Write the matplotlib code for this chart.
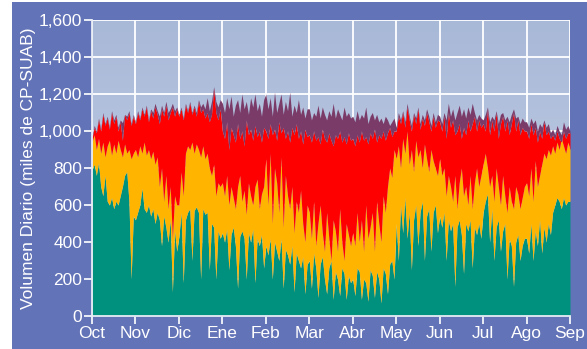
import numpy as np
import matplotlib.pyplot as plt
from matplotlib.patches import Rectangle
from matplotlib.colors import LinearSegmentedColormap

plt.rcParams['font.family'] = ['Liberation Sans', 'DejaVu Sans']

meses = ['Oct', 'Nov', 'Dic', 'Ene', 'Feb', 'Mar', 'Abr', 'May', 'Jun', 'Jul', 'Ago', 'Sep']

# límites superiores de cada capa (miles), 20 lecturas por mes (Oct..Ago) + 1 final
tope_verde = [
    790, 820, 760, 830, 700, 650, 760, 620, 600, 640, 580, 620, 600, 650, 700, 760, 780, 620, 200, 540,
    520, 560, 600, 690, 580, 560, 600, 540, 580, 500, 560, 520, 380, 540, 480, 400, 520, 130, 460, 350,
    430, 560, 180, 520, 560, 580, 300, 570, 590, 560, 200, 580, 550, 560, 250, 500, 480, 200, 460, 420,
    450, 400, 470, 250, 440, 480, 380, 150, 430, 460, 420, 200, 450, 400, 470, 180, 420, 380, 440, 260,
    380, 330, 420, 200, 400, 350, 300, 420, 150, 360, 330, 280, 380, 130, 340, 300, 260, 320, 120, 280,
    300, 150, 340, 260, 100, 280, 320, 200, 120, 260, 300, 90, 240, 200, 110, 260, 230, 90, 220, 180,
    200, 110, 260, 240, 90, 200, 180, 80, 250, 220, 100, 240, 200, 70, 260, 230, 120, 280, 300, 200,
    500, 300, 600, 450, 640, 420, 560, 250, 520, 600, 380, 560, 620, 300, 540, 580, 350, 560, 600, 450,
    540, 480, 560, 300, 520, 460, 500, 160, 480, 520, 440, 230, 500, 460, 520, 260, 480, 440, 500, 420,
    560, 620, 660, 400, 580, 300, 480, 520, 350, 460, 500, 200, 420, 380, 160, 400, 440, 300, 380, 420,
    420, 340, 500, 300, 460, 380, 520, 340, 480, 400, 500, 440, 560, 600, 640, 620, 580, 640, 600, 620,
    620,
]
tope_naranja = [
    940, 980, 900, 960, 880, 940, 860, 920, 950, 870, 930, 880, 950, 900, 860, 930, 880, 900, 850, 880,
    900, 860, 920, 880, 940, 870, 900, 850, 890, 820, 860, 700, 800, 620, 760, 580, 700, 420, 650, 600,
    600, 780, 650, 880, 920, 900, 940, 880, 930, 900, 860, 920, 850, 880, 800, 760, 820, 650, 720, 700,
    720, 650, 760, 600, 700, 640, 580, 700, 760, 620, 680, 550, 720, 650, 600, 700, 740, 580, 660, 700,
    850, 600, 880, 500, 800, 720, 560, 860, 480, 760, 650, 580, 700, 450, 620, 560, 680, 500, 400, 600,
    560, 420, 620, 380, 500, 600, 450, 350, 560, 420, 300, 520, 460, 350, 580, 400, 300, 500, 440, 380,
    450, 380, 560, 400, 520, 350, 600, 420, 480, 560, 350, 620, 500, 400, 650, 560, 700, 800, 750, 900,
    850, 920, 800, 960, 880, 1000, 820, 900, 780, 950, 860, 900, 800, 930, 850, 780, 900, 840, 800, 760,
    850, 760, 800, 650, 760, 700, 620, 760, 580, 720, 800, 650, 700, 600, 760, 580, 720, 800, 700, 760,
    820, 880, 800, 700, 760, 620, 800, 700, 600, 760, 650, 560, 700, 620, 580, 700, 660, 580, 640, 700,
    720, 650, 800, 620, 840, 700, 760, 820, 880, 850, 900, 870, 920, 880, 940, 900, 960, 920, 880, 940,
    900,
]
tope_rojo = [
    960, 1020, 990, 1060, 1000, 1090, 1030, 1070, 1010, 1100, 1040, 1080, 1000, 1050, 950, 1090, 1060, 1100, 1030, 1080,
    1040, 1100, 1060, 1120, 1080, 1130, 1050, 1110, 1070, 1130, 1090, 1040, 1120, 1080, 1140, 1060, 1100, 1130, 1080, 1120,
    1080, 1120, 1060, 1140, 1100, 1150, 1090, 1130, 1080, 1160, 1100, 1120, 1070, 1100, 1050, 1090, 1230, 1100, 1060, 1120,
    1000, 960, 1050, 900, 1020, 980, 940, 1040, 960, 1000, 920, 1060, 980, 1010, 950, 1030, 970, 1000, 940, 1020,
    1000, 960, 1040, 980, 1010, 950, 1050, 990, 1020, 960, 1000, 940, 1020, 980, 1040, 960, 1000, 930, 1010, 970,
    980, 940, 1000, 950, 970, 930, 1010, 960, 940, 990, 950, 920, 980, 960, 1000, 940, 970, 930, 990, 950,
    960, 920, 980, 940, 1000, 950, 970, 930, 990, 960, 1010, 940, 980, 960, 1000, 950, 990, 1020, 970, 1000,
    1000, 1080, 1040, 1100, 1020, 1130, 1060, 1000, 1090, 1040, 1120, 1010, 1070, 1030, 1100, 1050, 1000, 1080, 1020, 1060,
    1050, 1000, 1080, 960, 1100, 1020, 1060, 980, 1000, 1040, 960, 1020, 980, 1060, 1000, 1040, 1080, 1000, 1060, 1020,
    1040, 1000, 1120, 980, 1060, 1000, 1100, 960, 1040, 1080, 1000, 1060, 980, 1040, 1100, 1000, 1060, 980, 1020, 1000,
    1000, 960, 1040, 980, 1020, 940, 1000, 960, 1050, 980, 1000, 960, 980, 950, 1000, 960, 940, 1000, 960, 990,
    990,
]
total = [
    970, 1030, 1000, 1070, 1010, 1100, 1040, 1080, 1020, 1110, 1060, 1090, 1020, 1060, 1045, 1090, 1080, 1110, 1040, 1090,
    1050, 1110, 1070, 1130, 1090, 1140, 1060, 1120, 1100, 1150, 1110, 1080, 1140, 1100, 1160, 1100, 1120, 1150, 1110, 1130,
    1090, 1130, 1070, 1150, 1110, 1160, 1100, 1140, 1100, 1170, 1130, 1150, 1120, 1180, 1110, 1160, 1240, 1160, 1130, 1170,
    1150, 1100, 1180, 1120, 1190, 1080, 1140, 1170, 1100, 1200, 1120, 1160, 1090, 1180, 1130, 1200, 1110, 1150, 1080, 1170,
    1200, 1120, 1180, 1080, 1210, 1100, 1150, 1200, 1090, 1160, 1110, 1210, 1080, 1140, 1100, 1170, 1090, 1130, 1070, 1120,
    1120, 1060, 1100, 1080, 1140, 1070, 1130, 1090, 1060, 1110, 1080, 1150, 1070, 1120, 1090, 1060, 1130, 1080, 1100, 1070,
    1080, 1050, 1110, 1060, 1090, 1070, 1130, 1040, 1080, 1100, 1060, 1090, 1050, 1070, 1040, 1080, 1060, 1030, 1050, 1070,
    1020, 1100, 1060, 1110, 1050, 1150, 1080, 1030, 1100, 1070, 1130, 1040, 1090, 1060, 1120, 1080, 1030, 1100, 1050, 1090,
    1080, 1040, 1100, 1060, 1150, 1080, 1120, 1060, 1100, 1140, 1080, 1120, 1070, 1130, 1090, 1150, 1100, 1060, 1090, 1070,
    1060, 1090, 1130, 1050, 1080, 1060, 1110, 1040, 1090, 1100, 1060, 1080, 1050, 1090, 1120, 1070, 1080, 1040, 1070, 1050,
    1050, 1020, 1070, 1040, 1060, 1000, 1040, 1020, 1060, 1020, 1040, 990, 1010, 980, 1030, 1000, 980, 1050, 1010, 1030,
    1000,
]

x = np.arange(len(total)) / 20.0

fig = plt.figure(figsize=(5.87, 3.49), dpi=100, facecolor='white')
fondo = Rectangle((12 / 587, 0), 1, 1 - 2 / 349, transform=fig.transFigure,
                  facecolor='#6373b7', edgecolor='none', zorder=-10)
fig.add_artist(fondo)

ax = fig.add_axes([92 / 587, 33 / 349, 478 / 587, 296 / 349])

# fondo degradado
grad = np.linspace(0, 1, 100).reshape(-1, 1)
ax.imshow(grad, extent=[0, 11, 0, 1600], aspect='auto', origin='upper',
          cmap=LinearSegmentedColormap.from_list('f', ['#a8b8d7', '#c7d3e8']),
          zorder=0)

ax.fill_between(x, 0, tope_verde, color='#00917e', lw=0, zorder=2)
ax.fill_between(x, tope_verde, tope_naranja, color='#ffb400', lw=0, zorder=2)
ax.fill_between(x, tope_naranja, tope_rojo, color='#ff0000', lw=0, zorder=2)
ax.fill_between(x, tope_rojo, total, color='#7b3b68', lw=0, zorder=2)

ax.set_xlim(0, 11)
ax.set_ylim(0, 1600)
ax.set_xticks(range(12))
ax.set_xticklabels(meses)
ax.set_yticks(range(0, 1601, 200))
ax.set_yticklabels([f'{v:,}' for v in range(0, 1601, 200)])
ax.grid(True, color='white', lw=1.3, zorder=1)
ax.set_axisbelow(True)

for s in ['top', 'right']:
    ax.spines[s].set_visible(False)
for s in ['left', 'bottom']:
    ax.spines[s].set_color('#e8ecf6')
    ax.spines[s].set_linewidth(1.3)
    ax.spines[s].set_zorder(5)

ax.tick_params(colors='#f4f6fb', labelcolor='white', labelsize=12.5, length=6, width=1.3, pad=1)
ax.set_ylabel('Volumen Diario (miles de CP-SUAB)', color='white', fontsize=12.5, labelpad=2)

fig.savefig('out.png', dpi=100, facecolor=fig.get_facecolor())
